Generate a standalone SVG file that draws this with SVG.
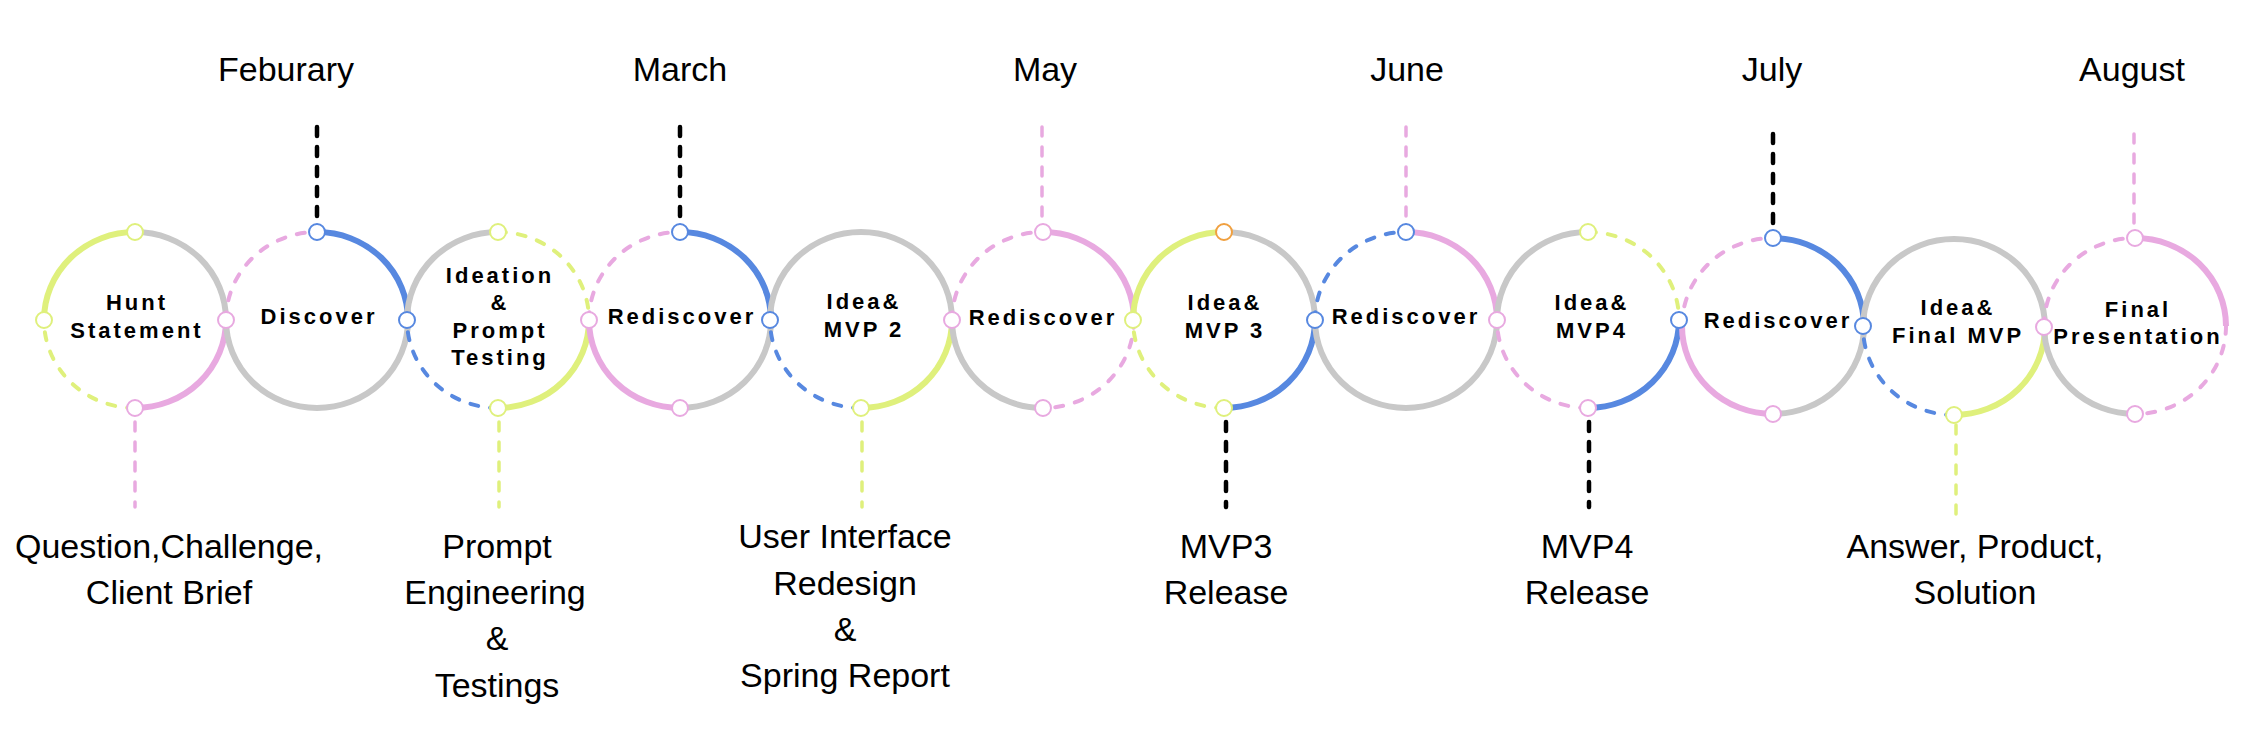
<svg xmlns="http://www.w3.org/2000/svg" width="2248" height="738" viewBox="0 0 2248 738">
<style>
.s{fill:none;stroke-width:6}
.d{fill:none;stroke-width:4;stroke-dasharray:8 12;stroke-linecap:round}
.g{stroke:#c8c8c8}.p{stroke:#e8a9e0}.y{stroke:#dff07c}.b{stroke:#5788e0}.k{stroke:#000}.o{stroke:#f0a040}
.m{fill:#fff;stroke-width:2}
.c{fill:none;stroke-width:3.5;stroke-dasharray:9 11;stroke-linecap:round}
.ck{stroke-width:4.5}
.t{font-family:"Liberation Sans",Arial,sans-serif;font-size:34px;fill:#000;text-anchor:middle}
.n{font-family:"Liberation Sans",Arial,sans-serif;font-size:22px;font-weight:bold;letter-spacing:3px;fill:#000;text-anchor:middle}
</style>
<rect width="2248" height="738" fill="#fff"/>
<g id="connectors">
<line class="c ck k" x1="317" y1="127" x2="317" y2="216"/>
<line class="c ck k" x1="680" y1="127" x2="680" y2="216"/>
<line class="c p" x1="1042" y1="127" x2="1042" y2="216"/>
<line class="c p" x1="1406" y1="127" x2="1406" y2="216"/>
<line class="c ck k" x1="1773" y1="134" x2="1773" y2="223"/>
<line class="c p" x1="2134" y1="134" x2="2134" y2="223"/>
<line class="c p" x1="135" y1="422" x2="135" y2="507"/>
<line class="c y" x1="499" y1="422" x2="499" y2="507"/>
<line class="c y" x1="862" y1="422" x2="862" y2="507"/>
<line class="c ck k" x1="1226" y1="422" x2="1226" y2="507"/>
<line class="c ck k" x1="1589" y1="422" x2="1589" y2="507"/>
<line class="c y" x1="1956" y1="425" x2="1956" y2="514"/>
</g>
<g id="n1">
<path class="s g" d="M135,232 A91,88 0 0 1 226,320"/>
<path class="s p" d="M226,320 A91,88 0 0 1 135,408"/>
<path class="d y" d="M135,408 A91,88 0 0 1 44,320"/>
<path class="s y" d="M44,320 A91,88 0 0 1 135,232"/>
<text class="n" x="137" y="310">Hunt</text>
<text class="n" x="137" y="338">Statement</text>
</g>
<g id="n2">
<path class="d p" d="M226,320 A91,88 0 0 1 317,232"/>
<path class="s b" d="M317,232 A91,88 0 0 1 408,320"/>
<path class="s g" d="M408,320 A91,88 0 0 1 317,408"/>
<path class="s g" d="M317,408 A91,88 0 0 1 226,320"/>
<text class="n" x="319" y="324">Discover</text>
</g>
<g id="n3">
<path class="s g" d="M407,320 A91,88 0 0 1 498,232"/>
<path class="d y" d="M498,232 A91,88 0 0 1 589,320"/>
<path class="s y" d="M589,320 A91,88 0 0 1 498,408"/>
<path class="d b" d="M498,408 A91,88 0 0 1 407,320"/>
<text class="n" x="500" y="283">Ideation</text>
<text class="n" x="500" y="310">&amp;</text>
<text class="n" x="500" y="338">Prompt</text>
<text class="n" x="500" y="365">Testing</text>
</g>
<g id="n4">
<path class="d p" d="M589,320 A91,88 0 0 1 680,232"/>
<path class="s b" d="M680,232 A91,88 0 0 1 771,320"/>
<path class="s g" d="M771,320 A91,88 0 0 1 680,408"/>
<path class="s p" d="M680,408 A91,88 0 0 1 589,320"/>
<text class="n" x="682" y="324">Rediscover</text>
</g>
<g id="n5">
<path class="s g" d="M770,320 A91,88 0 0 1 861,232"/>
<path class="s g" d="M861,232 A91,88 0 0 1 952,320"/>
<path class="s y" d="M952,320 A91,88 0 0 1 861,408"/>
<path class="d b" d="M861,408 A91,88 0 0 1 770,320"/>
<text class="n" x="864" y="309">Idea&amp;</text>
<text class="n" x="864" y="337">MVP 2</text>
</g>
<g id="n6">
<path class="d p" d="M952,320 A91,88 0 0 1 1043,232"/>
<path class="s p" d="M1043,232 A91,88 0 0 1 1134,320"/>
<path class="d p" d="M1134,320 A91,88 0 0 1 1043,408"/>
<path class="s g" d="M1043,408 A91,88 0 0 1 952,320"/>
<text class="n" x="1043" y="325">Rediscover</text>
</g>
<g id="n7">
<path class="s y" d="M1133,320 A91,88 0 0 1 1224,232"/>
<path class="s g" d="M1224,232 A91,88 0 0 1 1315,320"/>
<path class="s b" d="M1315,320 A91,88 0 0 1 1224,408"/>
<path class="d y" d="M1224,408 A91,88 0 0 1 1133,320"/>
<text class="n" x="1225" y="310">Idea&amp;</text>
<text class="n" x="1225" y="338">MVP 3</text>
</g>
<g id="n8">
<path class="d b" d="M1315,320 A91,88 0 0 1 1406,232"/>
<path class="s p" d="M1406,232 A91,88 0 0 1 1497,320"/>
<path class="s g" d="M1497,320 A91,88 0 0 1 1406,408"/>
<path class="s g" d="M1406,408 A91,88 0 0 1 1315,320"/>
<text class="n" x="1406" y="324">Rediscover</text>
</g>
<g id="n9">
<path class="s g" d="M1497,320 A91,88 0 0 1 1588,232"/>
<path class="d y" d="M1588,232 A91,88 0 0 1 1679,320"/>
<path class="s b" d="M1679,320 A91,88 0 0 1 1588,408"/>
<path class="d p" d="M1588,408 A91,88 0 0 1 1497,320"/>
<text class="n" x="1592" y="310">Idea&amp;</text>
<text class="n" x="1592" y="338">MVP4</text>
</g>
<g id="n10">
<path class="d p" d="M1682,326 A91,88 0 0 1 1773,238"/>
<path class="s b" d="M1773,238 A91,88 0 0 1 1864,326"/>
<path class="s g" d="M1864,326 A91,88 0 0 1 1773,414"/>
<path class="s p" d="M1773,414 A91,88 0 0 1 1682,326"/>
<text class="n" x="1778" y="328">Rediscover</text>
</g>
<g id="n11">
<path class="s g" d="M1863,327 A91,88 0 0 1 1954,239"/>
<path class="s g" d="M1954,239 A91,88 0 0 1 2045,327"/>
<path class="s y" d="M2045,327 A91,88 0 0 1 1954,415"/>
<path class="d b" d="M1954,415 A91,88 0 0 1 1863,327"/>
<text class="n" x="1958" y="315">Idea&amp;</text>
<text class="n" x="1958" y="343">Final MVP</text>
</g>
<g id="n12">
<path class="d p" d="M2044,326 A91,88 0 0 1 2135,238"/>
<path class="s p" d="M2135,238 A91,88 0 0 1 2226,326"/>
<path class="d p" d="M2226,326 A91,88 0 0 1 2135,414"/>
<path class="s g" d="M2135,414 A91,88 0 0 1 2044,326"/>
<text class="n" x="2138" y="317">Final</text>
<text class="n" x="2138" y="344">Presentation</text>
</g>
<g id="markers">
<circle class="m y" cx="135" cy="232" r="8"/>
<circle class="m y" cx="44" cy="320" r="8"/>
<circle class="m p" cx="135" cy="408" r="8"/>
<circle class="m p" cx="226" cy="320" r="8"/>
<circle class="m b" cx="317" cy="232" r="8"/>
<circle class="m b" cx="407" cy="320" r="8"/>
<circle class="m y" cx="498" cy="232" r="8"/>
<circle class="m y" cx="498" cy="408" r="8"/>
<circle class="m p" cx="589" cy="320" r="8"/>
<circle class="m b" cx="680" cy="232" r="8"/>
<circle class="m p" cx="680" cy="408" r="8"/>
<circle class="m b" cx="770" cy="320" r="8"/>
<circle class="m y" cx="861" cy="408" r="8"/>
<circle class="m p" cx="952" cy="320" r="8"/>
<circle class="m p" cx="1043" cy="232" r="8"/>
<circle class="m p" cx="1043" cy="408" r="8"/>
<circle class="m y" cx="1133" cy="320" r="8"/>
<circle class="m o" cx="1224" cy="232" r="8"/>
<circle class="m y" cx="1224" cy="408" r="8"/>
<circle class="m b" cx="1315" cy="320" r="8"/>
<circle class="m b" cx="1406" cy="232" r="8"/>
<circle class="m p" cx="1497" cy="320" r="8"/>
<circle class="m y" cx="1588" cy="232" r="8"/>
<circle class="m p" cx="1588" cy="408" r="8"/>
<circle class="m b" cx="1679" cy="320" r="8"/>
<circle class="m b" cx="1773" cy="238" r="8"/>
<circle class="m p" cx="1773" cy="414" r="8"/>
<circle class="m b" cx="1863" cy="326" r="8"/>
<circle class="m y" cx="1954" cy="415" r="8"/>
<circle class="m p" cx="2044" cy="327" r="8"/>
<circle class="m p" cx="2135" cy="238" r="8"/>
<circle class="m p" cx="2135" cy="414" r="8"/>
</g>
<g id="labels">
<text class="t" x="286" y="81">Feburary</text>
<text class="t" x="680" y="81">March</text>
<text class="t" x="1045" y="81">May</text>
<text class="t" x="1407" y="81">June</text>
<text class="t" x="1772" y="81">July</text>
<text class="t" x="2132" y="81">August</text>
<text class="t" x="169" y="558">Question,Challenge,</text>
<text class="t" x="169" y="604">Client Brief</text>
<text class="t" x="497" y="558">Prompt</text>
<text class="t" x="495" y="604">Engineering</text>
<text class="t" x="497" y="650">&amp;</text>
<text class="t" x="497" y="697">Testings</text>
<text class="t" x="845" y="548">User Interface</text>
<text class="t" x="845" y="595">Redesign</text>
<text class="t" x="845" y="641">&amp;</text>
<text class="t" x="845" y="687">Spring Report</text>
<text class="t" x="1226" y="558">MVP3</text>
<text class="t" x="1226" y="604">Release</text>
<text class="t" x="1587" y="558">MVP4</text>
<text class="t" x="1587" y="604">Release</text>
<text class="t" x="1975" y="558">Answer, Product,</text>
<text class="t" x="1975" y="604">Solution</text>
</g>
</svg>
